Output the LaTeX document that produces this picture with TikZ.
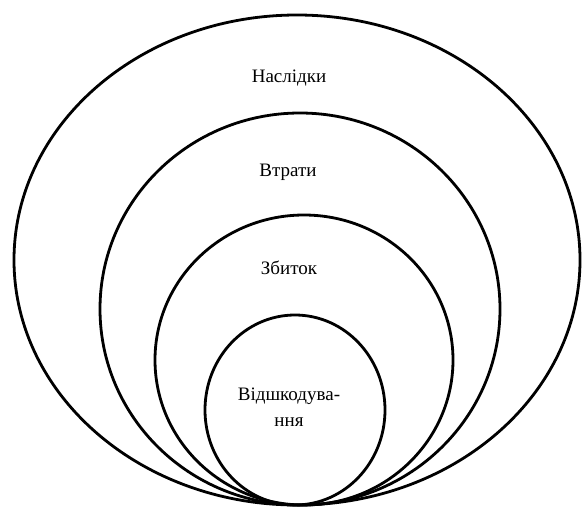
\documentclass[tikz,border=0pt]{standalone}
\usepackage{fontspec}
\setmainfont{Liberation Serif}
\usepackage{tikz}
\usetikzlibrary{positioning}
\tikzset{
  ring/.style={draw=black, line width=2.8pt},
  lbl/.style={font=\fontsize{19}{26}\selectfont, align=center, inner sep=0pt}
}

\begin{document}
\begin{tikzpicture}[x=1pt,y=1pt]
\useasboundingbox (0,0) rectangle (583,507);
% Rings
\draw[ring] (297,247) ellipse [x radius=283, y radius=245];
\draw[ring] (300,198) ellipse [x radius=200, y radius=196];
\draw[ring] (304,147) ellipse [x radius=149, y radius=145];
\draw[ring] (295,97) ellipse [x radius=90, y radius=95];

% Labels
\node[lbl] (naslidky) at (289,429) {Наслідки};
\node[lbl] (vtraty) at (288,335) {Втрати};
\node[lbl] (zbytok) at (289,239) {Збиток};
\node[lbl] (vidshk) at (289,100) {Відшкодува-\\ння};
\end{tikzpicture}
\end{document}
